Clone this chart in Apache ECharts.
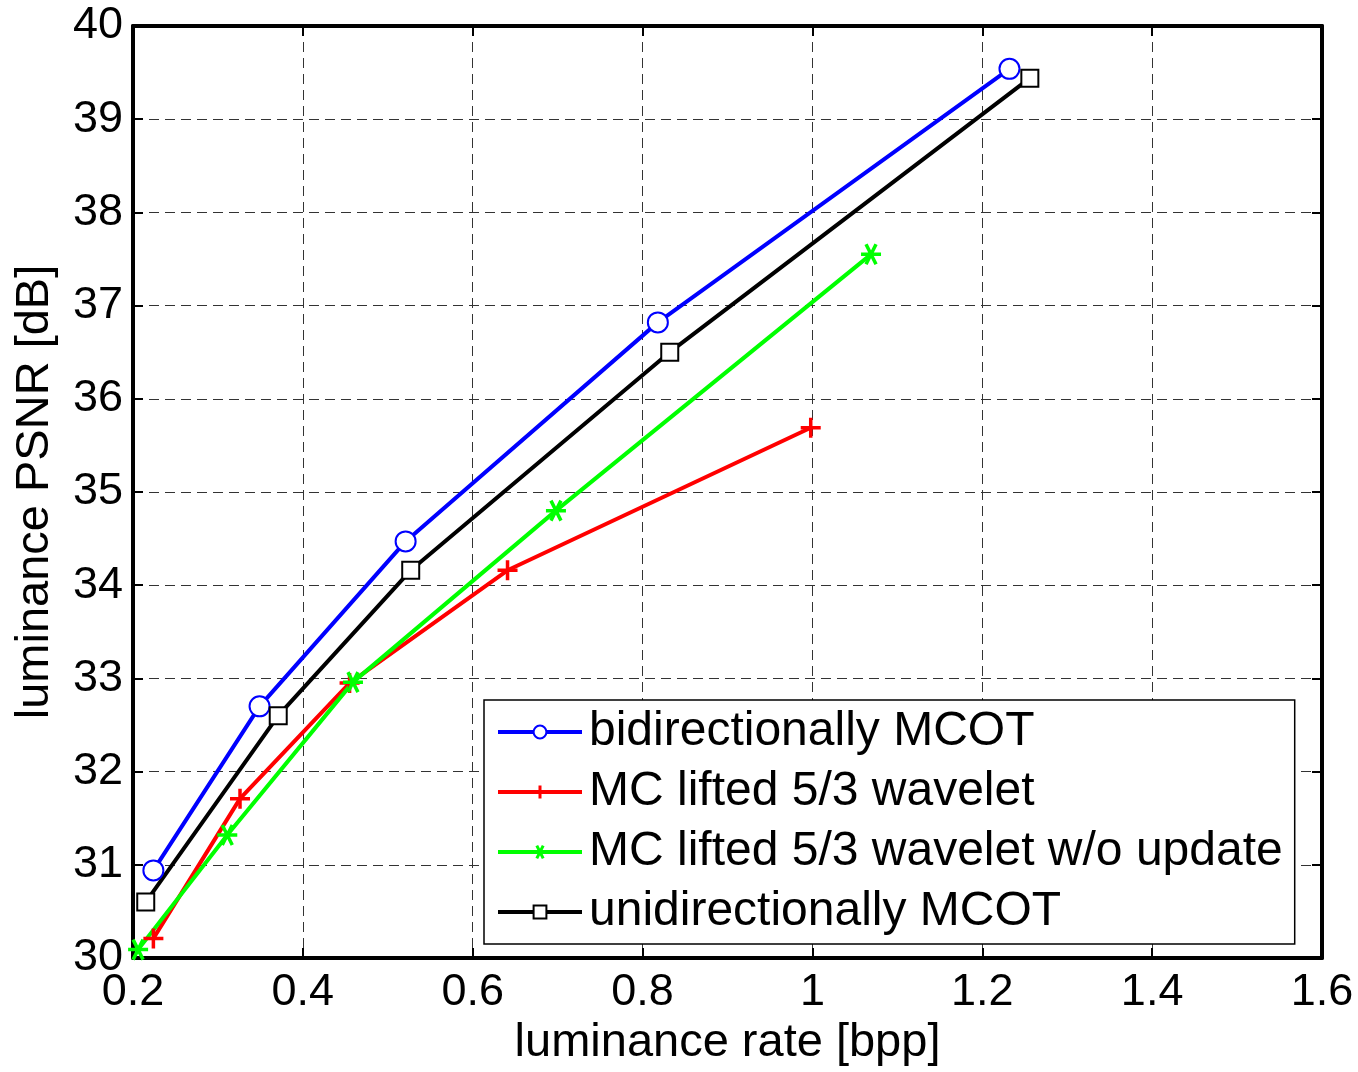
<!DOCTYPE html>
<html>
<head>
<meta charset="utf-8">
<script src="https://cdn.jsdelivr.net/npm/echarts@6/dist/echarts.min.js"></script>
<style>
  html, body { margin: 0; padding: 0; background: #fff; }
  #chart { width: 1358px; height: 1072px; }
</style>
</head>
<body>
<div id="chart"></div>
<script>
// rate [bpp], PSNR [dB]
var bidirRate = [0.224, 0.349, 0.521, 0.818, 1.232];
var bidirPsnr = [30.94, 32.70, 34.47, 36.82, 39.54];
var liftRate = [0.224, 0.326, 0.455, 0.641, 0.998];
var liftPsnr = [30.21, 31.71, 32.95, 34.16, 35.69];
var noUpdRate = [0.206, 0.311, 0.459, 0.698, 1.069];
var noUpdPsnr = [30.09, 31.32, 32.96, 34.80, 37.55];
var unidirRate = [0.215, 0.371, 0.527, 0.832, 1.256];
var unidirPsnr = [30.60, 32.60, 34.16, 36.50, 39.44];
var seriesNames = ['bidirectionally MCOT', 'MC lifted 5/3 wavelet', 'MC lifted 5/3 wavelet w/o update', 'unidirectionally MCOT'];

function pairs(xs, ys) {
  return xs.map(function (x, i) { return [x, ys[i]]; });
}

var FONT = '"Liberation Sans", Arial, sans-serif';
var plusPath = 'path://M0,-1L0,1M-1,0L1,0';
var starPath = 'path://M-1,0L1,0M-0.5,-0.866L0.5,0.866M-0.5,0.866L0.5,-0.866';

function makeSeries(name, data, color, symbol, size) {
  return {
    name: name,
    type: 'line',
    data: data,
    clip: false,
    symbol: symbol,
    symbolSize: size,
    showAllSymbol: true,
    lineStyle: { color: color, width: 4 },
    itemStyle: { color: color, borderColor: color, borderWidth: 3.5 },
    emphasis: { disabled: true },
    animation: false
  };
}

var gridLine = { show: true, lineStyle: { color: '#333', width: 1, type: [10, 6] } };
var boxLine = { show: true, onZero: false, lineStyle: { color: '#000', width: 4 } };
var tickIn = { show: true, inside: true, length: 10, lineStyle: { color: '#000', width: 2 } };

var myChart = echarts.init(document.getElementById('chart'));
var option = {
  backgroundColor: '#fff',
  animation: false,
  grid: { left: 133, right: 36, top: 26, bottom: 109 },
  legend: {
    orient: 'vertical',
    left: 484,
    top: 700,
    data: seriesNames,
    backgroundColor: '#fff',
    borderColor: '#000',
    borderWidth: 1.5,
    padding: [8, 12, 8, 12],
    itemGap: 12,
    itemWidth: 84,
    itemHeight: 16,
    lineStyle: { width: 4 },
    itemStyle: { borderWidth: 3 },
    textStyle: { fontFamily: FONT, fontSize: 48, lineHeight: 48, color: '#000', padding: [0, 0, 0, 2] }
  },
  xAxis: [{
    type: 'value',
    min: 0.2, max: 1.6, interval: 0.2,
    name: 'luminance rate [bpp]',
    nameLocation: 'middle',
    nameGap: 62,
    nameTextStyle: { fontFamily: FONT, fontSize: 47, color: '#000' },
    axisLine: boxLine,
    axisTick: tickIn,
    splitLine: gridLine,
    axisLabel: {
      fontFamily: FONT, fontSize: 45, color: '#000', margin: 12,
      formatter: function (v) { return String(Math.round(v * 10) / 10); }
    }
  }, {
    type: 'value', position: 'top',
    min: 0.2, max: 1.6, interval: 0.2,
    axisLine: boxLine, axisTick: tickIn,
    axisLabel: { show: false }, splitLine: { show: false }
  }],
  yAxis: [{
    type: 'value',
    min: 30, max: 40, interval: 1,
    name: 'luminance PSNR [dB]',
    nameLocation: 'middle',
    nameGap: 74,
    nameTextStyle: { fontFamily: FONT, fontSize: 47, color: '#000' },
    axisLine: boxLine,
    axisTick: tickIn,
    splitLine: gridLine,
    axisLabel: { fontFamily: FONT, fontSize: 45, color: '#000', margin: 10 }
  }, {
    type: 'value', position: 'right',
    min: 30, max: 40, interval: 1,
    axisLine: boxLine, axisTick: tickIn,
    axisLabel: { show: false }, splitLine: { show: false }
  }],
  series: [
    makeSeries(seriesNames[0], pairs(bidirRate, bidirPsnr), '#0000ff', 'emptyCircle', 20),
    makeSeries(seriesNames[1], pairs(liftRate, liftPsnr), '#ff0000', plusPath, 20),
    makeSeries(seriesNames[2], pairs(noUpdRate, noUpdPsnr), '#00ff00', starPath, 20),
    makeSeries(seriesNames[3], pairs(unidirRate, unidirPsnr), '#000000', 'emptyRect', 17)
  ]
};
myChart.setOption(option);
</script>
</body>
</html>
